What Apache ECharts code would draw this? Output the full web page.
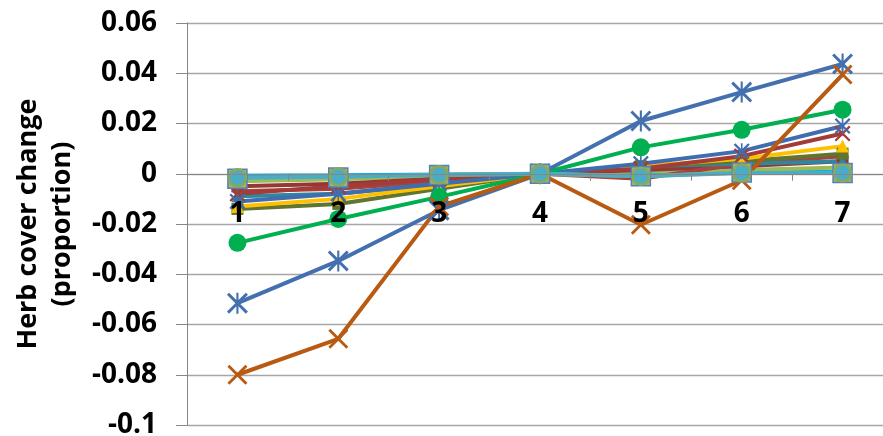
<!DOCTYPE html>
<html>
<head>
<meta charset="utf-8">
<script src="https://cdn.jsdelivr.net/npm/echarts@6/dist/echarts.min.js"></script>
<style>
html,body{margin:0;padding:0;background:#fff;}
#chart{width:883px;height:436px;}
</style>
</head>
<body>
<div id="chart"></div>
<script>
const categories = ['1','2','3','4','5','6','7'];
const yTicks = [-0.1,-0.08,-0.06,-0.04,-0.02,0,0.02,0.04,0.06];
const axisTitle = 'Herb cover change\n(proportion)';

const lightBlue  = [-0.0008,-0.0006,-0.0003,0,0.0005,0.0006,0.0008];
const oliveLight = [-0.003,-0.0022,-0.001,0,0.001,0.0015,0.0025];
const brownRed   = [-0.005,-0.004,-0.002,0,0.0015,0.003,0.005];
const darkRed2   = [-0.007,-0.006,-0.003,0,-0.002,0.004,0.007];
const teal       = [-0.009,-0.008,-0.004,0,0.003,0.004,0.005];
const darkOlive  = [-0.014,-0.012,-0.006,0,0.003,0.005,0.008];
const yellow     = [-0.013,-0.010,-0.005,0,0.003,0.006,0.011];
const blue2      = [-0.011,-0.008,-0.004,0,0.004,0.009,0.019];
const darkRedX   = [-0.008,-0.005,-0.002,0,0.002,0.007,0.016];
const green      = [-0.0275,-0.018,-0.0092,0,0.0105,0.0175,0.0255];
const blueStar   = [-0.0515,-0.0347,-0.0145,0,0.021,0.0325,0.0437];
const orangeX    = [-0.080,-0.0657,-0.013,0,-0.0203,-0.0026,0.0395];
const tanSquare  = [-0.002,-0.0015,-0.0005,0,-0.001,0.0005,0.0003];
const aquaCircle = [-0.0016,-0.0012,-0.0004,0,-0.001,0.0003,0.0003];

const X_PATH = 'path://M0,2 L2,0 L10,8 L18,0 L20,2 L12,10 L20,18 L18,20 L10,12 L2,20 L0,18 L8,10 Z';
const STAR_PATH = 'path://M0,2 L2,0 L10,8 L18,0 L20,2 L12,10 L20,18 L18,20 L10,12 L2,20 L0,18 L8,10 Z M9,0 L11,0 L11,20 L9,20 Z';

function line(data, color, symbol, size, extra) {
  return Object.assign({
    type: 'line',
    data: data,
    symbol: symbol,
    symbolSize: size,
    lineStyle: { color: color, width: 4 },
    itemStyle: { color: color },
    emphasis: { disabled: true },
    z: 2
  }, extra || {});
}

const GRID_TOP = 23, GRID_BOTTOM = 11, H = 436;
const yMin = -0.1, yMax = 0.06;
const plotH = H - GRID_TOP - GRID_BOTTOM;
const zeroOffset = -plotH * (0 - yMin) / (yMax - yMin);

const chart = echarts.init(document.getElementById('chart'), null, { renderer: 'canvas' });
chart.setOption({
  animation: false,
  grid: { left: 187, right: -10, top: GRID_TOP, bottom: GRID_BOTTOM, containLabel: false, outerBoundsMode: 'none' },
  xAxis: {
    type: 'category',
    data: categories,
    boundaryGap: true,
    offset: zeroOffset,
    z: 10,
    axisLine: { show: true, onZero: false, lineStyle: { color: '#868686', width: 1 } },
    axisTick: { show: true, length: 7, lineStyle: { color: '#868686' } },
    axisLabel: { color: '#000', fontFamily: 'Open Sans', fontWeight: 'bold', fontSize: 28, margin: 26 },
    splitLine: { show: false }
  },
  yAxis: {
    type: 'value',
    min: yMin, max: yMax, interval: 0.02,
    name: axisTitle,
    nameLocation: 'middle',
    nameGap: 108,
    nameTextStyle: { color: '#000', fontFamily: 'Open Sans', fontWeight: 'bold', fontSize: 27, lineHeight: 34 },
    axisLine: { show: true, lineStyle: { color: '#868686', width: 1 } },
    axisTick: { show: true, length: 11, lineStyle: { color: '#868686' } },
    axisLabel: {
      color: '#000', fontFamily: 'Open Sans', fontWeight: 'bold', fontSize: 28, margin: 30,
      formatter: v => { const r = Math.round(v * 100) / 100; return yTicks.indexOf(r) >= 0 ? String(r) : ''; }
    },
    splitLine: { show: true, lineStyle: { color: '#A6A6A6', width: 1.3 } }
  },
  series: [
    line(lightBlue, '#00B0F0', 'none', 0),
    line(oliveLight, '#9BBB59', 'rect', 12),
    line(brownRed, '#953735', 'rect', 12),
    line(darkRed2, '#A8423F', 'diamond', 12),
    line(teal, '#31859C', 'triangle', 12),
    line(darkOlive, '#5F7530', 'rect', 12),
    line(yellow, '#FFC000', 'triangle', 13),
    line(darkRedX, '#A33B36', X_PATH, 16),
    line(blue2, '#3F6DB0', STAR_PATH, 16),
    line(green, '#00B050', 'circle', 18),
    line(blueStar, '#4470B0', STAR_PATH, 21),
    line(orangeX, '#B85A12', X_PATH, 20),
    line(tanSquare, '#9BBB59', 'rect', 19, { lineStyle: { color: '#9BBB59', width: 4 }, itemStyle: { color: '#9DB56A', borderColor: '#4F81BD', borderWidth: 1.5 } }),
    line(aquaCircle, '#4BACC6', 'circle', 17, { lineStyle: { color: '#4BACC6', width: 4 }, itemStyle: { color: '#4BACC6', borderColor: '#8DA75A', borderWidth: 2.5 } })
  ]
});
</script>
</body>
</html>
